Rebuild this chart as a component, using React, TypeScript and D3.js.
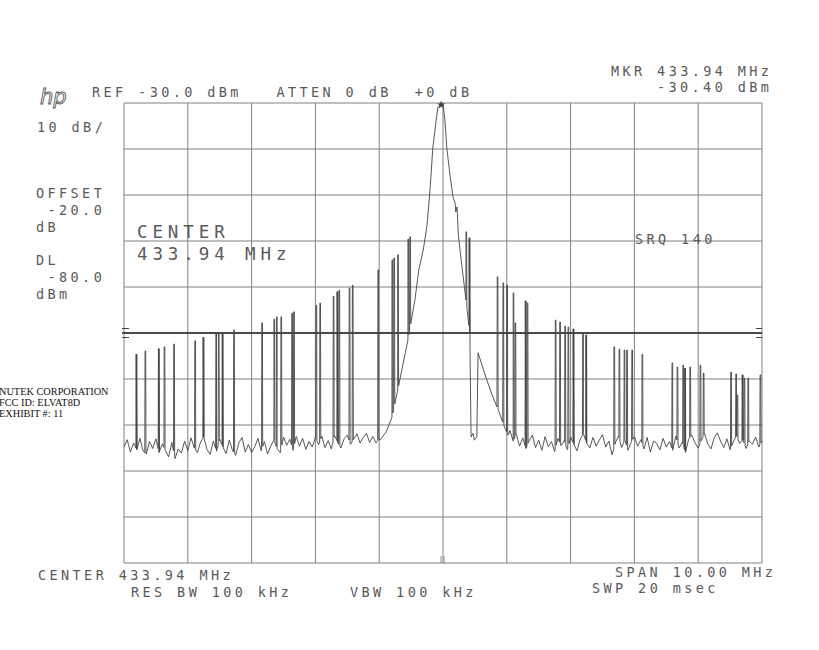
import React from "react";
import * as d3 from "d3";

// ---------------- data ----------------
// frequency offsets in MHz from the centre (433.94 MHz), levels in dBm
const centerMHz = 433.94;
const spanMHz = 10;
const refLevel = -30;
const dbPerDiv = 10;
const displayLine = -80;

const gridCols = d3.range(0, 11);
const gridRows = d3.range(0, 11);

// noise floor left of the carrier, from -5.00 to -1.00 MHz every 0.05 MHz
const noiseStep = 0.05;
const leftNoiseStart = -5.0;
const leftNoise = [
  -104.8, -103.2, -105.9, -103.9, -105.4, -102.9, -105.7, -106.3, -103.6, -105.1,
  -103.0, -106.0, -104.1, -105.6, -106.9, -103.8, -107.3, -105.2, -106.1, -103.5,
  -105.6, -102.8, -104.9, -106.0, -103.7, -102.6, -105.3, -106.4, -103.5, -105.7,
  -103.1, -104.8, -106.2, -103.3, -105.5, -106.6, -103.9, -102.7, -105.9, -104.2,
  -106.0, -104.7, -102.9, -105.6, -103.6, -106.3, -104.6, -103.2, -105.2, -106.0,
  -102.6, -104.4, -103.1, -105.5, -102.5, -104.6, -102.9, -105.3, -103.6, -104.8,
  -102.7, -104.3, -102.4, -104.9, -103.4, -105.2, -102.3, -103.8, -105.0, -103.0,
  -102.2, -104.2, -103.1, -101.9, -103.9, -102.7, -101.8, -103.8, -102.5, -103.9,
  -103.0,
];

// noise floor right of the carrier, from 1.05 to 5.00 MHz every 0.05 MHz
const rightNoiseStart = 1.05;
const rightNoise = [
  -101.2, -103.5, -102.0, -104.6, -102.8, -105.1, -103.4, -102.2, -104.9, -103.3,
  -105.5, -102.5, -104.7, -103.6, -105.8, -102.9, -104.5, -103.4, -105.4, -102.6,
  -104.2, -105.6, -103.1, -101.9, -103.9, -105.0, -102.7, -104.6, -103.3, -102.1,
  -104.8, -103.5, -106.5, -103.9, -102.4, -104.9, -103.2, -105.5, -103.7, -102.5,
  -104.6, -103.2, -105.2, -102.7, -105.9, -103.5, -104.0, -105.4, -102.9, -104.8,
  -103.6, -105.5, -102.4, -105.0, -103.8, -106.0, -103.1, -102.2, -103.9, -105.0,
  -103.3, -101.9, -104.1, -105.2, -102.8, -101.7, -103.5, -104.9, -103.0, -105.4,
  -103.7, -102.3, -104.0, -103.2, -105.1, -103.5, -104.2, -102.6, -104.8, -103.4,
];

// carrier envelope [offset MHz, dBm]
const carrierOffsets = [
  -0.99, -0.89, -0.8, -0.71, -0.63, -0.55, -0.49, -0.44, -0.38, -0.31, -0.25, -0.2,
  -0.16, -0.11, -0.08, -0.03, 0.0, 0.03, 0.06, 0.11, 0.16, 0.19, 0.2, 0.22, 0.24,
  0.3, 0.36, 0.42, 0.44, 0.47, 0.49, 0.53, 0.55, 0.66, 0.77, 0.88, 0.97, 1.02,
];
const carrierLevels = [
  -103.3, -101.5, -98.3, -92.4, -87.0, -81.5, -76.7, -72.8, -66.3, -62.0, -56.5, -48.3,
  -39.8, -34.1, -30.9, -30.4, -30.2, -33.7, -39.8, -45.7, -50.7, -51.7, -53.7, -52.6, -58.7,
  -65.9, -72.8, -80.0, -102.6, -101.8, -103.3, -102.6, -84.3, -89.1, -93.5, -97.2, -100.7, -102.2,
];

// intermittent captures (spike tops) [offset MHz, dBm]
const spikeOffsets = [
  -4.81, -4.67, -4.46, -4.37, -4.22, -3.89, -3.76, -3.56, -3.52, -3.46, -3.28, -2.84,
  -2.65, -2.61, -2.54, -2.37, -2.34, -1.99, -1.93, -1.72, -1.66, -1.63, -1.47, -1.42,
  -1.02, -0.8, -0.77, -0.71, -0.55, -0.52,
  0.36, 0.41, 0.85, 0.94, 1.0, 1.1, 1.13, 1.29, 1.32, 1.76, 1.83, 1.91, 1.96, 2.04,
  2.19, 2.24, 2.68, 2.76, 2.84, 2.88, 2.96, 3.12, 3.59, 3.67, 3.76, 3.79, 3.87, 4.03,
  4.08, 4.51, 4.59, 4.61, 4.69, 4.72, 4.78, 4.97,
];
const spikeLevels = [
  -84.6, -83.9, -83.4, -83.0, -82.4, -81.7, -80.9, -80.2, -80.2, -80.2, -79.3, -77.8,
  -77.0, -76.5, -76.5, -75.7, -75.4, -74.0, -73.5, -72.0, -71.0, -70.7, -70.2, -69.6,
  -66.3, -64.1, -63.7, -63.0, -59.6, -59.1,
  -58.0, -59.3, -67.8, -69.1, -69.6, -71.3, -77.8, -73.0, -73.5, -77.2, -77.6, -78.5,
  -78.7, -79.1, -80.0, -80.4, -83.0, -83.5, -83.7, -83.7, -83.7, -84.6, -86.5, -87.4,
  -87.0, -87.6, -87.4, -87.0, -88.7, -88.5, -88.9, -93.5, -89.1, -89.8, -89.8, -89.1,
];

const markerOffset = -0.03;
const markerLevel = -30.4;

// ---------------- layout ----------------
const W = 819;
const H = 650;
const X0 = 124;
const X1 = 762;
const Y0 = 103;
const Y1 = 563;

const TXT = "#5a5a5a";
const MONO = "'DejaVu Sans Mono', 'Liberation Mono', monospace";

function buildTrace(): [number, number][] {
  const base: [number, number][] = [];
  leftNoise.forEach((v, i) => base.push([leftNoiseStart + i * noiseStep, v]));
  carrierOffsets.forEach((f, i) => base.push([f, carrierLevels[i]]));
  rightNoise.forEach((v, i) => base.push([rightNoiseStart + i * noiseStep, v]));
  base.sort((a, b) => a[0] - b[0]);
  const fs = base.map((d) => d[0]);
  const bis = d3.bisector((d: number) => d).left;
  const baseAt = (f: number) => {
    const i = Math.max(1, Math.min(fs.length - 1, bis(fs, f)));
    const a = base[i - 1];
    const b = base[i];
    const t = (f - a[0]) / (b[0] - a[0] || 1);
    return a[1] + t * (b[1] - a[1]);
  };
  const extra: [number, number][] = [];
  spikeOffsets.forEach((f, i) => {
    const top = spikeLevels[i];
    extra.push([f - 0.004, baseAt(f - 0.004)]);
    extra.push([f, top]);
    extra.push([f + 0.01, top]);
    extra.push([f + 0.014, baseAt(f + 0.014)]);
  });
  return [...base, ...extra].sort((a, b) => a[0] - b[0]);
}

const T = (props: {
  x: number;
  y: number;
  size?: number;
  ls?: number;
  children: React.ReactNode;
}) => (
  <text
    x={props.x}
    y={props.y}
    fontFamily={MONO}
    fontSize={props.size ?? 13.5}
    fill={TXT}
    style={{ letterSpacing: `${props.ls ?? 3.4}px`, whiteSpace: "pre" }}
  >
    {props.children}
  </text>
);

export default function App() {
  const x = d3.scaleLinear().domain([-spanMHz / 2, spanMHz / 2]).range([X0, X1]);
  const y = d3
    .scaleLinear()
    .domain([refLevel, refLevel - dbPerDiv * 10])
    .range([Y0, Y1]);

  const trace = buildTrace();
  const line = d3
    .line<[number, number]>()
    .x((d) => x(d[0]))
    .y((d) => y(d[1]));

  const star = d3.symbol().type(d3.symbolStar).size(22)() as string;
  const yDL = y(displayLine);

  return (
    <svg
      width={W}
      height={H}
      style={{ position: "absolute", left: 0, top: 0, background: "#fff" }}
    >
      <rect x={0} y={0} width={W} height={H} fill="#fff" />
      {/* grid */}
      {gridCols.map((i) => {
        const gx = x(-spanMHz / 2 + i);
        return (
          <line key={"v" + i} x1={gx} x2={gx} y1={Y0} y2={Y1} stroke="#808080" strokeWidth={1} />
        );
      })}
      {gridRows.map((i) => {
        const gy = y(refLevel - dbPerDiv * i);
        return (
          <line key={"h" + i} x1={X0} x2={X1} y1={gy} y2={gy} stroke="#808080" strokeWidth={1} />
        );
      })}
      {/* display line */}
      <line x1={X0 - 2} x2={X1} y1={yDL} y2={yDL} stroke="#222" strokeWidth={1.4} />
      {[-4.5, 4.5].map((o) => (
        <g key={o}>
          <line x1={X0 - 2} x2={X0 + 5} y1={yDL + o} y2={yDL + o} stroke="#444" />
          <line x1={X1 - 6} x2={X1} y1={yDL + o} y2={yDL + o} stroke="#444" />
        </g>
      ))}
      {/* bottom centre marks */}
      <line x1={x(0) - 2} x2={x(0) - 2} y1={Y1 - 7} y2={Y1} stroke="#777" strokeWidth={0.8} />
      <line x1={x(0) + 1} x2={x(0) + 1} y1={Y1 - 7} y2={Y1} stroke="#777" strokeWidth={0.8} />

      {/* trace */}
      <path d={line(trace) ?? ""} fill="none" stroke="#444" strokeWidth={0.9} strokeLinejoin="round" />
      <path
        d={star}
        transform={`translate(${x(markerOffset)},${y(markerLevel)})`}
        fill="#444"
      />

      {/* annotations */}
      <text
        x={40}
        y={104}
        fontFamily="'DejaVu Sans', sans-serif"
        fontStyle="italic"
        fontSize={21}
        fill="none"
        stroke="#555"
        strokeWidth={0.9}
      >
        hp
      </text>
      <T x={92} y={97}>REF -30.0 dBm   ATTEN 0 dB  +0 dB</T>
      <T x={611} y={76}>MKR 433.94 MHz</T>
      <T x={657} y={92}>-30.40 dBm</T>
      <T x={37} y={132}>10 dB/</T>
      <T x={36} y={198}>OFFSET</T>
      <T x={36} y={215}> -20.0</T>
      <T x={36} y={232}>dB</T>
      <T x={36} y={265}>DL</T>
      <T x={36} y={282}> -80.0</T>
      <T x={36} y={299}>dBm</T>
      <T x={137} y={238} size={17.5} ls={4.9}>CENTER</T>
      <T x={137} y={260} size={17.5} ls={4.9}>433.94 MHz</T>
      <T x={635} y={244}>SRQ 140</T>
      <T x={38} y={580}>CENTER 433.94 MHz</T>
      <T x={131} y={597}>RES BW 100 kHz</T>
      <T x={350} y={597}>VBW 100 kHz</T>
      <T x={615} y={577}>SPAN 10.00 MHz</T>
      <T x={592} y={593}>SWP 20 msec</T>

      <g fontFamily="'Liberation Serif', 'Times New Roman', serif" fontSize={10.3} fill="#111">
        <text x={-1} y={395}>NUTEK CORPORATION</text>
        <text x={-1} y={406}>FCC ID:  ELVAT8D</text>
        <text x={-1} y={417}>EXHIBIT #:  11</text>
      </g>
    </svg>
  );
}
